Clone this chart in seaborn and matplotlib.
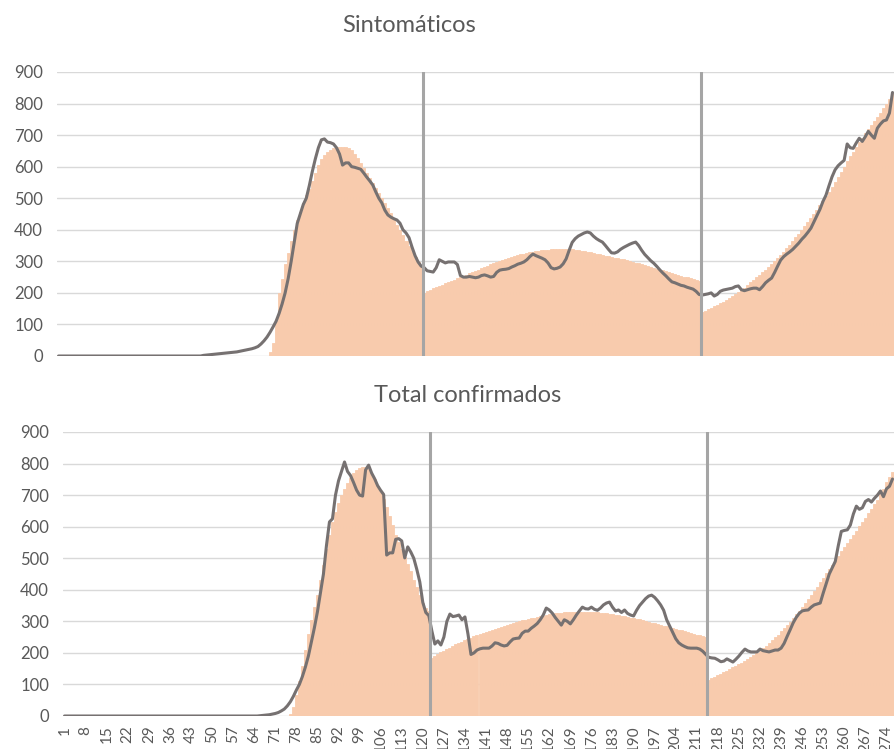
import matplotlib
matplotlib.use("Agg")
import matplotlib.pyplot as plt
import seaborn as sns

# ---- data (one value per day) ----
sint_days = list(range(1, 278))
conf_days = list(range(1, 277))

sint_bars = [
    0, 0, 0, 0, 0, 0, 0, 0, 0, 0, 0, 0, 0, 0, 0, 0, 0, 0, 0, 0,
    0, 0, 0, 0, 0, 0, 0, 0, 0, 0, 0, 0, 0, 0, 0, 0, 0, 0, 0, 0,
    0, 0, 0, 0, 0, 0, 0, 0, 0, 0, 0, 0, 0, 0, 0, 0, 0, 0, 0, 0,
    0, 0, 0, 0, 0, 0, 0, 0, 0, 0,
    12, 40, 110, 200, 245, 290, 326, 365, 400, 430, 456, 485, 510, 530, 555,
    580, 605, 625, 638, 648, 654, 658, 661, 663, 663, 662, 659, 652, 640, 626,
    612, 597, 581, 565, 548, 532, 516, 500, 485, 470, 452, 434, 416, 399, 382,
    365, 348, 330, 314, 298, 282,
    200, 205, 210, 214, 218, 222, 226, 230, 234, 238, 242, 246, 250, 254, 258,
    262, 266, 270, 274, 278, 282, 286, 290, 294, 297, 300, 304, 307, 310, 313,
    316, 319, 322, 324, 326, 328, 330, 332, 334, 335, 336, 337, 338, 339, 339,
    340, 340, 339, 339, 338, 337, 336, 334, 332, 330, 328, 326, 324, 322, 320,
    318, 316, 314, 312, 310, 308, 306, 303, 301, 299, 296, 294, 292, 289, 286,
    283, 280, 277, 274, 271, 268, 265, 262, 259, 257, 254, 251, 249, 246, 244,
    241, 239,
    140, 144, 149, 153, 158, 162, 167, 172, 178, 184, 190, 196, 203, 210, 217,
    225, 233, 241, 249, 257, 265, 274, 283, 292, 301, 310, 320, 330, 342, 353,
    364, 376, 387, 399, 411, 424, 437, 450, 463, 477, 491, 506, 521, 536, 551,
    566, 582, 598, 617, 633, 648, 663, 678, 692, 706, 719, 732, 745, 758, 770,
    786, 800, 815, 833,
]

sint_line = [
    0, 0, 0, 0, 0, 0, 0, 0, 0, 0, 0, 0, 0, 0, 0, 0, 0, 0, 0, 0,
    0, 0, 0, 0, 0, 0, 0, 0, 0, 0, 0, 0, 0, 0, 0, 0, 0, 0, 0, 0,
    0, 0, 0, 0, 0, 0, 0, 0,
    2, 3, 4, 5, 6, 7, 8, 9, 10, 11, 12, 13, 15, 17, 19, 21, 23, 26, 30, 38,
    48, 60, 75, 92, 110, 135, 165, 200, 245, 300, 360, 420, 450, 480, 500, 540,
    585, 625, 660, 685, 688, 678, 676, 672, 660, 640, 605, 612, 612, 600, 598,
    595, 592, 580, 567, 555, 542, 520, 500, 485, 462,
    447, 440, 435, 431, 421, 400, 390, 375, 345, 318, 298, 285, 280, 270, 268,
    266, 280, 305, 300, 295, 298, 298, 298, 290, 255, 250, 250, 252, 250, 248,
    250, 255, 257, 254, 250, 252, 265, 272, 274, 275, 277, 282, 286, 291, 294,
    298, 305, 315, 323, 318, 314, 310, 305, 295, 280, 276, 278, 282, 292, 308,
    335, 360, 372, 380, 385, 390, 393, 390, 380, 372, 366, 361, 350, 338, 327,
    326, 330, 338, 344, 349, 354, 358, 361, 350, 335, 322, 312, 302, 294, 284,
    273, 263, 254, 244, 235, 232, 228, 224, 222, 218, 215, 212, 205, 195,
    193, 195, 197, 200, 190, 195, 205, 209, 211, 213, 215, 220, 222, 210, 207,
    210, 213, 215, 215, 210, 220, 232, 240, 247, 265, 285, 304, 315, 323, 330,
    338, 348, 358, 370, 380, 392, 405, 425, 445, 465, 490, 510, 540, 568, 590,
    603, 612, 620, 672, 660, 658, 675, 690, 680, 695, 712, 700, 690, 722, 735,
    745, 748, 770, 835,
]

conf_bars = [
    0, 0, 0, 0, 0, 0, 0, 0, 0, 0, 0, 0, 0, 0, 0, 0, 0, 0, 0, 0,
    0, 0, 0, 0, 0, 0, 0, 0, 0, 0, 0, 0, 0, 0, 0, 0, 0, 0, 0, 0,
    0, 0, 0, 0, 0, 0, 0, 0, 0, 0, 0, 0, 0, 0, 0, 0, 0, 0, 0, 0,
    0, 0, 0, 0, 0, 0, 0, 0, 0, 0, 0, 0, 0, 0, 0,
    5, 30, 65, 110, 160, 210, 260, 305, 345, 385, 430, 480, 530, 575, 615,
    645, 675, 700, 720, 738, 755, 770, 780, 786, 788, 788, 782, 768, 750, 730,
    710, 688, 662, 635, 605, 575, 550, 528, 505, 482, 458, 432, 408, 382, 358,
    342, 332,
    184, 190, 196, 202, 207, 212, 217, 222, 227, 231, 236, 240, 244, 248, 252,
    256, 259, 263, 266, 270, 273, 276, 279, 282, 285, 288, 291, 294, 297, 300,
    303, 305, 308, 310, 312, 314, 316, 318, 320, 322, 323, 325, 326, 327, 328,
    329, 330, 330, 331, 331, 331, 331, 330, 330, 329, 328, 327, 326, 325, 324,
    323, 321, 320, 318, 316, 314, 312, 310, 308, 306, 303, 301, 298, 296, 294,
    291, 289, 286, 284, 281, 279, 276, 274, 271, 268, 266, 263, 261, 258, 256,
    253, 250,
    115, 119, 124, 129, 134, 140, 144, 149, 154, 159, 164, 169, 175, 181, 187,
    193, 200, 207, 215, 223, 232, 240, 249, 258, 268, 278, 288, 298, 310, 322,
    334, 346, 358, 371, 384, 397, 410, 424, 438, 452, 466, 480, 494, 508, 522,
    535, 548, 561, 574, 587, 601, 615, 629, 643, 657, 671, 686, 702, 720, 740,
    757, 773,
]

conf_line = [
    0, 0, 0, 0, 0, 0, 0, 0, 0, 0, 0, 0, 0, 0, 0, 0, 0, 0, 0, 0,
    0, 0, 0, 0, 0, 0, 0, 0, 0, 0, 0, 0, 0, 0, 0, 0, 0, 0, 0, 0,
    0, 0, 0, 0, 0, 0, 0, 0, 0, 0, 0, 0, 0, 0, 0, 0, 0, 0, 0, 0,
    0, 0, 0, 0, 0,
    1, 2, 3, 4, 6, 8, 11, 16, 22, 32, 45, 62, 82, 100, 125,
    155, 190, 235, 280, 330, 390, 450, 540, 615, 625, 700, 745, 775, 805, 775,
    762, 740, 716, 700, 697, 780, 795, 770, 752, 730, 715, 702, 510, 517, 517,
    560, 562, 555, 501, 536, 520, 500, 465, 425, 360, 328, 318,
    270, 228, 238, 225, 250, 300, 323, 315, 317, 320, 305, 314, 260, 195, 200,
    209, 213, 215, 215, 215, 222, 232, 230, 225, 222, 224, 235, 244, 246, 247,
    262, 269, 269, 278, 285, 293, 305, 320, 342, 336, 326, 312, 300, 288, 305,
    300, 292, 305, 320, 333, 345, 340, 339, 345, 338, 335, 342, 352, 358, 361,
    345, 333, 336, 328, 336, 325, 320, 317, 335, 350, 361, 372, 380, 383, 376,
    365, 352, 335, 305, 285, 265, 245, 232, 225, 220, 216, 215, 215, 215, 212,
    205, 195,
    186, 184, 183, 178, 172, 174, 181, 176, 171, 180, 190, 202, 212, 206, 203,
    203, 203, 212, 207, 205, 203, 206, 209, 209, 215, 230, 252, 273, 295, 312,
    325, 333, 335, 336, 345, 352, 355, 358, 390, 420, 450, 470, 490, 540, 585,
    588, 590, 605, 640, 665, 655, 660, 680, 686, 678, 690, 700, 713, 695, 720,
    728, 751,
]

sint_cuts = [121.5, 213.5]
conf_cuts = [122.5, 214.5]
conf_tick_days = list(range(1, 277, 7))

BAR = "#F8CBAD"
LINE = "#767171"
CUT = "#A5A5A5"
GRID = "#D9D9D9"
TEXT = "#595959"

sns.set_theme(style="white")
plt.rcParams["font.family"] = ["Lato", "DejaVu Sans"]


def draw_panel(ax, days, bars, line, cuts):
    sns.barplot(x=days, y=bars, native_scale=True, width=1.0, color=BAR,
                saturation=1, edgecolor=BAR, linewidth=0.6, errorbar=None,
                ax=ax)
    sns.lineplot(x=days, y=line, color=LINE, linewidth=2.2, ax=ax)
    for c in cuts:
        ax.axvline(c, color=CUT, linewidth=2.2)
    ax.set_ylim(0, 900)
    ax.set_yticks(range(0, 901, 100))
    ax.set_xlim(0.5, len(days) + 0.5)
    ax.yaxis.grid(True, color=GRID, linewidth=1)
    ax.set_axisbelow(True)
    for s in ax.spines.values():
        s.set_visible(False)
    ax.set_xlabel("")
    ax.set_ylabel("")
    ax.tick_params(axis="y", length=0, pad=10, labelsize=12, labelcolor=TEXT)


fig = plt.figure(figsize=(8.94, 7.49), dpi=100)
W, H = 894, 749
ax1 = fig.add_axes([57 / W, 1 - 356 / H, (894 - 57) / W, 284 / H])
ax2 = fig.add_axes([63 / W, 1 - 716 / H, (894 - 63) / W, 284 / H])

draw_panel(ax1, sint_days, sint_bars, sint_line, sint_cuts)
ax1.set_xticks([])

draw_panel(ax2, conf_days, conf_bars, conf_line, conf_cuts)
ax2.set_xticks(conf_tick_days)
ax2.set_xticklabels([str(d) for d in conf_tick_days], rotation=90)
ax2.tick_params(axis="x", length=0, pad=7, labelsize=11, labelcolor=TEXT)

fig.text(409 / W, 1 - 25 / H, "Sintomáticos", ha="center", va="center",
         fontsize=17, color=TEXT)
fig.text(468 / W, 1 - 395 / H, "Total confirmados", ha="center", va="center",
         fontsize=17, color=TEXT)

fig.savefig("out.png", dpi=100)
